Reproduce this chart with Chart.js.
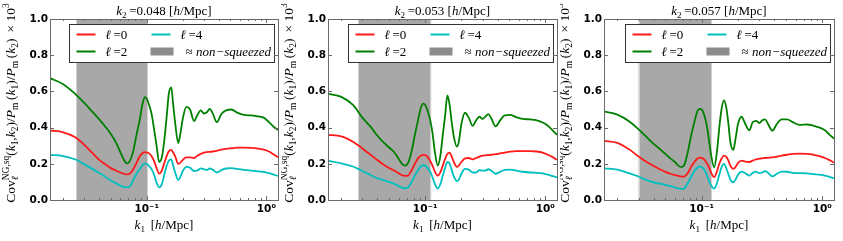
<!DOCTYPE html>
<html>
<head>
<meta charset="utf-8">
<script src="https://cdn.jsdelivr.net/npm/chart.js@4.4.0/dist/chart.umd.min.js"></script>
<style>
html, body { margin: 0; padding: 0; background: #fff; }
#wrap { position: relative; width: 843px; height: 241px; }
canvas { position: absolute; top: 0; }
</style>
</head>
<body>
<div id="wrap">
  <canvas id="c0" width="281" height="241" style="left:0px"></canvas>
  <canvas id="c1" width="279" height="241" style="left:281px"></canvas>
  <canvas id="c2" width="283" height="241" style="left:560px"></canvas>
</div>
<script>
// k1 grid [h/Mpc], shared by the three panels
var k1 = [0.0155, 0.02, 0.025, 0.03, 0.035, 0.04, 0.045, 0.05, 0.055, 0.06,
    0.064, 0.068, 0.072, 0.077, 0.082, 0.087, 0.092, 0.096, 0.1, 0.105,
    0.11, 0.115, 0.12, 0.127, 0.134, 0.14, 0.146, 0.153, 0.16, 0.166,
    0.173, 0.183, 0.19, 0.2, 0.214, 0.23, 0.248, 0.265, 0.283, 0.3,
    0.318, 0.335, 0.355, 0.385, 0.42, 0.46, 0.51, 0.57, 0.65, 0.75,
    0.85, 0.95, 1.05, 1.15, 1.25];

var k2Labels = ['0.048', '0.053', '0.057'];
var shadeLo = [0.0257, 0.0277, 0.030];
var shadeHi = [0.102, 0.112, 0.121];
var yTicks = [0, 0.2, 0.4, 0.6, 0.8, 1.0];
var seriesNames = ['\u2113=0', '\u2113=2', '\u2113=4'];

// k2 = 0.048
var ell0_048 = [0.384, 0.374, 0.348, 0.305, 0.26, 0.222, 0.197, 0.176, 0.163, 0.152,
    0.145, 0.142, 0.145, 0.17, 0.205, 0.24, 0.258, 0.264, 0.262, 0.256,
    0.24, 0.215, 0.18, 0.146, 0.165, 0.205, 0.24, 0.27, 0.277, 0.262,
    0.24, 0.2, 0.205, 0.222, 0.236, 0.235, 0.232, 0.245, 0.255, 0.262,
    0.265, 0.266, 0.268, 0.272, 0.278, 0.283, 0.286, 0.289, 0.289, 0.288,
    0.284, 0.278, 0.268, 0.252, 0.236];
var ell2_048 = [0.673, 0.64, 0.588, 0.537, 0.488, 0.445, 0.405, 0.365, 0.32, 0.265,
    0.225, 0.202, 0.215, 0.27, 0.36, 0.44, 0.53, 0.568, 0.56, 0.52,
    0.47, 0.39, 0.31, 0.21, 0.24, 0.33, 0.45, 0.59, 0.622, 0.53,
    0.42, 0.315, 0.36, 0.45, 0.515, 0.5, 0.437, 0.47, 0.495, 0.478,
    0.485, 0.503, 0.48, 0.43, 0.475, 0.495, 0.5, 0.483, 0.47, 0.467,
    0.462, 0.455, 0.43, 0.405, 0.387];
var ell4_048 = [0.249, 0.243, 0.225, 0.197, 0.172, 0.149, 0.128, 0.108, 0.093, 0.08,
    0.072, 0.07, 0.075, 0.11, 0.145, 0.17, 0.192, 0.202, 0.2, 0.185,
    0.168, 0.14, 0.1, 0.07, 0.09, 0.14, 0.185, 0.218, 0.225, 0.19,
    0.15, 0.11, 0.125, 0.16, 0.183, 0.178, 0.16, 0.163, 0.175, 0.17,
    0.166, 0.174, 0.168, 0.152, 0.165, 0.174, 0.176, 0.172, 0.167, 0.162,
    0.158, 0.155, 0.148, 0.14, 0.133];

// k2 = 0.053
var ell0_053 = [0.36, 0.352, 0.322, 0.285, 0.25, 0.22, 0.195, 0.177, 0.163, 0.148,
    0.137, 0.133, 0.135, 0.165, 0.2, 0.23, 0.245, 0.249, 0.248, 0.237,
    0.215, 0.19, 0.158, 0.134, 0.155, 0.19, 0.225, 0.255, 0.262, 0.24,
    0.21, 0.183, 0.19, 0.21, 0.23, 0.232, 0.225, 0.232, 0.24, 0.245,
    0.247, 0.248, 0.25, 0.254, 0.257, 0.262, 0.267, 0.27, 0.27, 0.27,
    0.268, 0.262, 0.25, 0.237, 0.222];
var ell2_053 = [0.587, 0.57, 0.525, 0.455, 0.405, 0.355, 0.318, 0.29, 0.265, 0.228,
    0.2, 0.19, 0.205, 0.27, 0.36, 0.44, 0.51, 0.533, 0.525, 0.49,
    0.44, 0.37, 0.27, 0.19, 0.25, 0.36, 0.46, 0.578, 0.52, 0.43,
    0.35, 0.295, 0.32, 0.42, 0.482, 0.455, 0.41, 0.44, 0.46, 0.448,
    0.462, 0.475, 0.45, 0.407, 0.44, 0.468, 0.47, 0.458, 0.448, 0.445,
    0.44, 0.428, 0.41, 0.385, 0.36];
var ell4_053 = [0.216, 0.203, 0.185, 0.16, 0.138, 0.12, 0.11, 0.1, 0.09, 0.077,
    0.068, 0.065, 0.07, 0.1, 0.135, 0.165, 0.185, 0.192, 0.19, 0.175,
    0.155, 0.125, 0.09, 0.063, 0.09, 0.135, 0.175, 0.21, 0.2, 0.165,
    0.13, 0.105, 0.112, 0.145, 0.172, 0.168, 0.152, 0.152, 0.165, 0.162,
    0.163, 0.17, 0.162, 0.145, 0.155, 0.167, 0.168, 0.162, 0.156, 0.152,
    0.15, 0.147, 0.14, 0.132, 0.125];

// k2 = 0.057
var ell0_057 = [0.327, 0.316, 0.28, 0.24, 0.21, 0.188, 0.17, 0.155, 0.145, 0.138,
    0.133, 0.129, 0.13, 0.15, 0.185, 0.21, 0.228, 0.234, 0.233, 0.225,
    0.205, 0.18, 0.15, 0.126, 0.16, 0.2, 0.228, 0.245, 0.238, 0.22,
    0.19, 0.172, 0.18, 0.205, 0.218, 0.212, 0.21, 0.218, 0.225, 0.228,
    0.23, 0.232, 0.233, 0.236, 0.24, 0.245, 0.25, 0.255, 0.256, 0.255,
    0.25, 0.243, 0.232, 0.22, 0.207];
var ell2_057 = [0.489, 0.472, 0.435, 0.39, 0.347, 0.31, 0.282, 0.255, 0.23, 0.21,
    0.19, 0.182, 0.195, 0.27, 0.36, 0.43, 0.49, 0.503, 0.5, 0.47,
    0.415, 0.33, 0.245, 0.18, 0.27, 0.4, 0.5, 0.55, 0.51, 0.43,
    0.32, 0.277, 0.33, 0.42, 0.46, 0.42, 0.385, 0.43, 0.437, 0.425,
    0.44, 0.445, 0.42, 0.383, 0.42, 0.445, 0.445, 0.43, 0.415, 0.417,
    0.41, 0.4, 0.385, 0.36, 0.34];
var ell4_057 = [0.175, 0.168, 0.148, 0.13, 0.11, 0.097, 0.09, 0.083, 0.076, 0.07,
    0.064, 0.061, 0.065, 0.095, 0.13, 0.16, 0.178, 0.185, 0.182, 0.168,
    0.14, 0.105, 0.08, 0.063, 0.095, 0.14, 0.18, 0.2, 0.175, 0.145,
    0.112, 0.098, 0.11, 0.14, 0.157, 0.148, 0.135, 0.15, 0.157, 0.148,
    0.152, 0.16, 0.15, 0.13, 0.145, 0.157, 0.156, 0.15, 0.148, 0.147,
    0.143, 0.14, 0.135, 0.128, 0.12];

var SERIF = "'Liberation Serif','DejaVu Serif',serif";
var SANS = "'DejaVu Sans', sans-serif";
var colors = ['#ff1a1a', '#008000', '#00bfbf'];
var frameColor = '#6a6a6a';

// draws text made of parts [text, flags]: i = italic, b = subscript, p = superscript, n = no advance
function textRuns(ctx, parts, size, draw, x0, y0) {
    var x = x0, held = 0;
    parts.forEach(function (p) {
        var f = p[1] || '';
        var small = f.indexOf('b') >= 0 || f.indexOf('p') >= 0;
        var s = small ? size * 0.7 : size;
        ctx.font = (f.indexOf('i') >= 0 ? 'italic ' : '') + s + 'px ' + SERIF;
        var dy = f.indexOf('b') >= 0 ? size * 0.22 : (f.indexOf('p') >= 0 ? -size * 0.42 : 0);
        var w = ctx.measureText(p[0]).width;
        if (draw) ctx.fillText(p[0], x, y0 + dy);
        if (f.indexOf('n') >= 0) {
            held = Math.max(held, w);
        } else {
            x += Math.max(w, held);
            held = 0;
        }
    });
    return x - x0;
}

function drawRich(ctx, parts, size, x, y, align) {
    ctx.textAlign = 'left';
    ctx.textBaseline = 'alphabetic';
    var w = textRuns(ctx, parts, size, false, 0, 0);
    var start = align === 'center' ? x - w / 2 : (align === 'right' ? x - w : x);
    textRuns(ctx, parts, size, true, start, y);
}

var yTitle = [['Cov', ''], ['\u2113', 'ibn'], ['NG,sq', 'p'], ['(', ''], ['k', 'i'], ['1', 'b'],
    [',', ''], ['k', 'i'], ['2', 'b'], [')/', ''], ['P', 'i'], ['m', 'b'], ['\u2009(', ''],
    ['k', 'i'], ['1', 'b'], [')/', ''], ['P', 'i'], ['m', 'b'], ['\u2009(', ''], ['k', 'i'],
    ['2', 'b'], [')\u2009 \u00d7 10', ''], ['3', 'p']];
var xTitle = [['k', 'i'], ['1', 'b'], ['\u2009 [', ''], ['h', 'i'], ['/Mpc]', '']];

var shadePlugin = {
    id: 'shade',
    beforeDatasetsDraw: function (chart, args, opts) {
        var a = chart.chartArea, xs = chart.scales.x, ctx = chart.ctx;
        var x0 = xs.getPixelForValue(opts.lo), x1 = xs.getPixelForValue(opts.hi);
        ctx.save();
        ctx.fillStyle = '#a8a8a8';
        ctx.fillRect(x0, a.top, x1 - x0, a.bottom - a.top);
        ctx.fillStyle = '#d2d2d2';
        ctx.fillRect(Math.round(x0), a.top, 1, a.bottom - a.top);
        ctx.fillRect(Math.round(x1) - 1, a.top, 1, a.bottom - a.top);
        ctx.restore();
    }
};

var legendPlugin = {
    id: 'boxLegend',
    afterDatasetsDraw: function (chart) {
        var a = chart.chartArea, ctx = chart.ctx, ds = chart.data.datasets;
        var bw = 205, bh = 38;
        var bx = Math.round(a.right - 4 - bw) + 0.5, by = Math.round(a.top + 5) + 0.5;
        ctx.save();
        ctx.fillStyle = '#fff';
        ctx.fillRect(bx, by, bw, bh);
        ctx.strokeStyle = '#333';
        ctx.lineWidth = 1;
        ctx.strokeRect(bx, by, bw, bh);
        var slots = [[bx + 7, by + 10], [bx + 7, by + 27], [bx + 82, by + 10]];
        ds.forEach(function (d, i) {
            var s = slots[i];
            ctx.strokeStyle = d.borderColor;
            ctx.lineWidth = 2;
            ctx.beginPath();
            ctx.moveTo(s[0], s[1]);
            ctx.lineTo(s[0] + 19, s[1]);
            ctx.stroke();
            ctx.fillStyle = '#000';
            drawRich(ctx, [[d.label.charAt(0), 'i'], ['\u2009' + d.label.slice(1), '']], 13, s[0] + 29, s[1] + 4, 'left');
        });
        ctx.fillStyle = '#8c8c8c';
        ctx.fillRect(bx + 81, by + 23, 23, 8);
        ctx.fillStyle = '#000';
        drawRich(ctx, [['\u2248 ', ''], ['non\u2212squeezed', 'i']], 13, bx + 116, by + 31, 'left');
        ctx.restore();
    }
};

var framePlugin = {
    id: 'frame',
    afterDraw: function (chart, args, opts) {
        var a = chart.chartArea, ctx = chart.ctx, xs = chart.scales.x, ys = chart.scales.y;
        ctx.save();
        ctx.strokeStyle = frameColor;
        ctx.lineWidth = 1;
        ctx.beginPath();
        for (var e = -2; e <= 0; e++) {
            for (var m = 1; m <= 9; m++) {
                var v = m * Math.pow(10, e);
                if (v < xs.min || v > xs.max) continue;
                var px = Math.round(xs.getPixelForValue(v)) + 0.5, len = m === 1 ? 4 : 2;
                ctx.moveTo(px, a.bottom); ctx.lineTo(px, a.bottom - len);
                ctx.moveTo(px, a.top); ctx.lineTo(px, a.top + len);
            }
        }
        yTicks.forEach(function (v) {
            var py = Math.round(ys.getPixelForValue(v)) + 0.5;
            ctx.moveTo(a.left, py); ctx.lineTo(a.left + 4, py);
            ctx.moveTo(a.right, py); ctx.lineTo(a.right - 4, py);
        });
        ctx.stroke();
        ctx.strokeRect(Math.round(a.left) + 0.5, Math.round(a.top) + 0.5,
            Math.round(a.right - a.left), Math.round(a.bottom - a.top));
        // titles
        ctx.fillStyle = '#000';
        var cx = (a.left + a.right) / 2;
        drawRich(ctx, [['k', 'i'], ['2', 'b'], ['\u2009=' + opts.k2 + ' [', ''], ['h', 'i'], ['/Mpc]', '']], 13, cx, 15, 'center');
        drawRich(ctx, xTitle, 13, cx, 229, 'center');
        ctx.translate(a.left - 35, 103);
        ctx.rotate(-Math.PI / 2);
        drawRich(ctx, yTitle, 13.5, 0, 0, 'center');
        ctx.restore();
    }
};

var panels = [
    { id: 'c0', width: 281, chartLeft: 50, chartRight: 280, series: [ell0_048, ell2_048, ell4_048] },
    { id: 'c1', width: 279, chartLeft: 47, chartRight: 276, series: [ell0_053, ell2_053, ell4_053] },
    { id: 'c2', width: 283, chartLeft: 44, chartRight: 274, series: [ell0_057, ell2_057, ell4_057] }
];

panels.forEach(function (p, n) {
    var datasets = p.series.map(function (vals, i) {
        return {
            label: seriesNames[i],
            data: k1.map(function (k, j) { return { x: k, y: vals[j] }; }),
            borderColor: colors[i],
            borderWidth: 1.8,
            pointRadius: 0,
            fill: false,
            cubicInterpolationMode: 'monotone',
            order: 2 - i
        };
    });
    new Chart(document.getElementById(p.id), {
        type: 'line',
        data: { datasets: datasets },
        plugins: [shadePlugin, legendPlugin, framePlugin],
        options: {
            responsive: false,
            animation: false,
            layout: { padding: { left: 0, right: p.width - p.chartRight, top: 19, bottom: 0 } },
            scales: {
                x: {
                    type: 'logarithmic',
                    min: 0.0155,
                    max: 1.25,
                    grid: { display: false, drawTicks: false },
                    border: { display: false },
                    ticks: {
                        autoSkip: false,
                        maxRotation: 0,
                        padding: 3,
                        color: '#000',
                        font: { family: SANS, size: 10.5, weight: 'bold' },
                        callback: function (v) {
                            var l = Math.log10(v);
                            if (Math.abs(l - Math.round(l)) > 1e-6) return '';
                            return Math.round(l) === 0 ? '10\u2070' : '10\u207b\u00b9';
                        }
                    },
                    afterFit: function (s) { s.height = 41; }
                },
                y: {
                    min: 0,
                    max: 1,
                    grid: { display: false, drawTicks: false },
                    border: { display: false },
                    ticks: {
                        stepSize: 0.2,
                        padding: 2,
                        color: '#000',
                        font: { family: SANS, size: 10.5, weight: 'bold' },
                        callback: function (v) { return v.toFixed(1); }
                    },
                    afterFit: function (s) { s.width = p.chartLeft; }
                }
            },
            plugins: {
                legend: { display: false },
                tooltip: { enabled: false },
                shade: { lo: shadeLo[n], hi: shadeHi[n] },
                frame: { k2: k2Labels[n] }
            }
        }
    });
});
</script>
</body>
</html>
